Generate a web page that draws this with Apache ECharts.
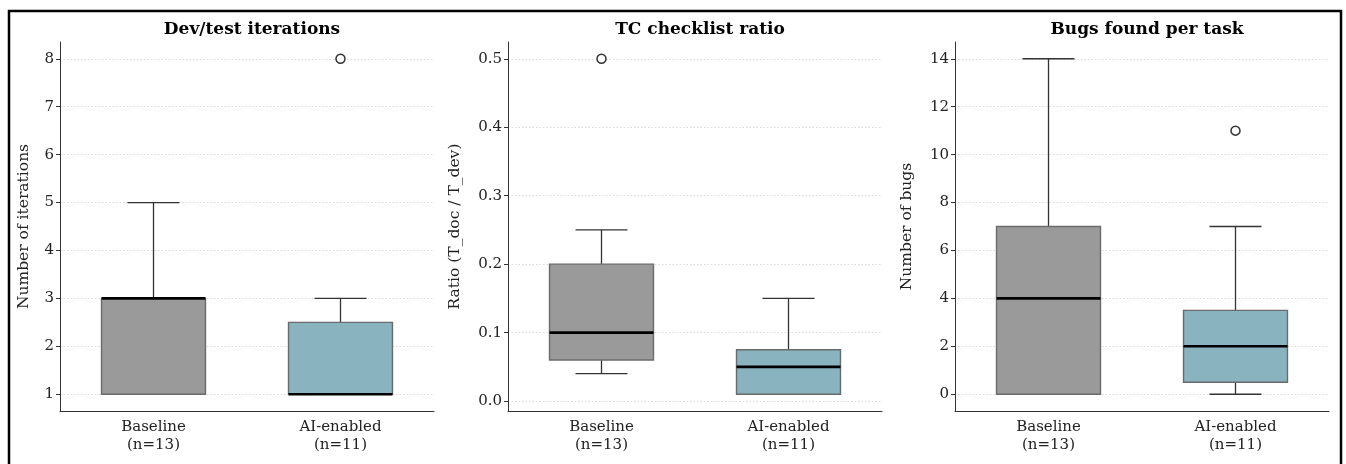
<!DOCTYPE html>
<html>
<head>
<meta charset="utf-8">
<script src="https://cdn.jsdelivr.net/npm/echarts@6/dist/echarts.min.js"></script>
<style>
  html, body { margin: 0; padding: 0; background: #fff; }
  #chart { width: 1346px; height: 464px; }
</style>
</head>
<body>
<div id="chart"></div>
<script>
// categories shared by the three panels
const categories = ['Baseline\n(n=13)', 'AI-enabled\n(n=11)'];

// box stats per category: [low whisker, q1, median, q3, high whisker]
const iterStats = [[1, 1, 3, 3, 5], [1, 1, 1, 2.5, 3]];
const iterOutliers = [[1, 8]];
const iterTicks = [1, 2, 3, 4, 5, 6, 7, 8];

const ratioStats = [[0.04, 0.06, 0.1, 0.2, 0.25], [0.01, 0.01, 0.05, 0.075, 0.15]];
const ratioOutliers = [[0, 0.5]];
const ratioTicks = [0, 0.1, 0.2, 0.3, 0.4, 0.5];

const bugStats = [[0, 0, 4, 7, 14], [0, 0.5, 2, 3.5, 7]];
const bugOutliers = [[1, 11]];
const bugTicks = [0, 2, 4, 6, 8, 10, 12, 14];

const titles = ['Dev/test iterations', 'TC checklist ratio', 'Bugs found per task'];
const yNames = ['Number of iterations', 'Ratio (T_doc / T_dev)', 'Number of bugs'];

const boxColors = ['#9a9a9a', '#88b3bf'];
const FONT = '"DejaVu Serif", serif';

const panels = [
  { stats: iterStats, outliers: iterOutliers, ticks: iterTicks, min: 0.65, max: 8.35, left: 60, gap: 28, fmt: v => String(v) },
  { stats: ratioStats, outliers: ratioOutliers, ticks: ratioTicks, min: -0.0145, max: 0.5245, left: 508, gap: 45, fmt: v => v.toFixed(1) },
  { stats: bugStats, outliers: bugOutliers, ticks: bugTicks, min: -0.7, max: 14.7, left: 955, gap: 40, fmt: v => String(v) }
];

const chart = echarts.init(document.getElementById('chart'));

function renderBox(params, api) {
  const idx = api.value(0);
  const low = api.coord([idx, api.value(1)]);
  const q1 = api.coord([idx, api.value(2)]);
  const med = api.coord([idx, api.value(3)]);
  const q3 = api.coord([idx, api.value(4)]);
  const high = api.coord([idx, api.value(5)]);
  const band = api.size([1, 0])[0];
  const bw = band * 0.556;
  const cw = bw / 2;
  const cx = med[0];
  const wStyle = { stroke: '#333', lineWidth: 1.3 };
  return {
    type: 'group',
    children: [
      { type: 'line', shape: { x1: cx, y1: q3[1], x2: cx, y2: high[1] }, style: wStyle },
      { type: 'line', shape: { x1: cx, y1: q1[1], x2: cx, y2: low[1] }, style: wStyle },
      { type: 'line', shape: { x1: cx - cw / 2, y1: high[1], x2: cx + cw / 2, y2: high[1] }, style: wStyle },
      { type: 'line', shape: { x1: cx - cw / 2, y1: low[1], x2: cx + cw / 2, y2: low[1] }, style: wStyle },
      {
        type: 'rect',
        shape: { x: cx - bw / 2, y: q3[1], width: bw, height: q1[1] - q3[1] },
        style: { fill: boxColors[idx], stroke: '#6b6b6b', lineWidth: 1.4 }
      },
      { type: 'line', shape: { x1: cx - bw / 2, y1: med[1], x2: cx + bw / 2, y2: med[1] }, style: { stroke: '#000', lineWidth: 2.6 } }
    ]
  };
}

const grid = [], xAxis = [], yAxis = [], series = [], title = [];
panels.forEach((p, i) => {
  grid.push({ left: p.left, top: 42, width: 374, height: 369 });
  title.push({
    text: titles[i], left: p.left + 187, top: 16, textAlign: 'center',
    textStyle: { fontFamily: FONT, fontSize: 17, fontWeight: 'bold', color: '#000' }
  });
  xAxis.push({
    type: 'category', gridIndex: i, data: categories, boundaryGap: true,
    axisLine: { onZero: false, lineStyle: { color: '#333', width: 1 } },
    axisTick: { alignWithLabel: true, length: 4, lineStyle: { color: '#333' } },
    axisLabel: { fontFamily: FONT, fontSize: 15, color: '#222', margin: 7, lineHeight: 18 },
    splitLine: { show: false }
  });
  yAxis.push({
    type: 'value', gridIndex: i, min: p.min, max: p.max,
    name: yNames[i], nameLocation: 'middle', nameGap: p.gap, nameRotate: 90,
    nameTextStyle: { fontFamily: FONT, fontSize: 15.5, color: '#222' },
    axisLine: { show: true, onZero: false, lineStyle: { color: '#333', width: 1 } },
    axisTick: { show: true, length: 4, customValues: p.ticks, lineStyle: { color: '#333' } },
    axisLabel: { fontFamily: FONT, fontSize: 15, color: '#222', margin: 6, customValues: p.ticks, formatter: p.fmt },
    splitLine: { show: true, lineStyle: { color: '#cfcfcf', type: [1.5, 2], width: 0.8 } }
  });
  series.push({
    type: 'custom', xAxisIndex: i, yAxisIndex: i,
    renderItem: renderBox,
    encode: { x: 0, y: [1, 2, 3, 4, 5] },
    data: p.stats.map((s, k) => [k].concat(s)),
    z: 3
  });
  series.push({
    type: 'scatter', xAxisIndex: i, yAxisIndex: i,
    symbol: 'circle', symbolSize: 9,
    itemStyle: { color: '#fff', borderColor: '#000', borderWidth: 1.5 },
    data: p.outliers,
    z: 4
  });
});

chart.setOption({
  animation: false,
  backgroundColor: '#fff',
  title: title,
  grid: grid,
  xAxis: xAxis,
  yAxis: yAxis,
  series: series,
  graphic: [{
    type: 'rect', silent: true,
    shape: { x: 9, y: 11, width: 1332, height: 470 },
    style: { fill: 'none', stroke: '#000', lineWidth: 2.5 }
  }]
});
</script>
</body>
</html>
